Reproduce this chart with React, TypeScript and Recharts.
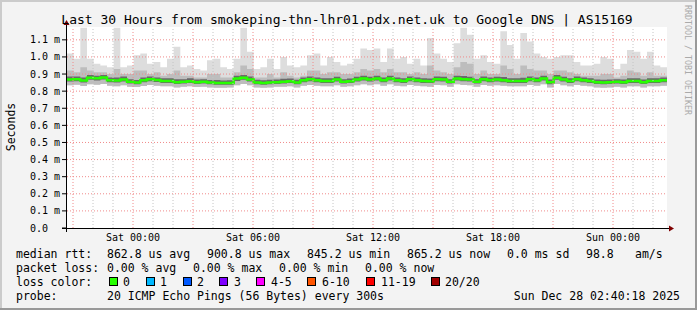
import React from 'react';
import { ComposedChart, Area, Line, XAxis, YAxis, ReferenceLine, CartesianGrid } from 'recharts';

// 20-minute steps starting Fri 20:42 (t in hours since start)
const medianMs = [
  0.868, 0.870, 0.862, 0.878, 0.875, 0.880, 0.864, 0.862, 0.868, 0.855, 0.850, 0.864, 0.870, 0.865, 0.860, 0.860, 0.852, 0.855, 0.858, 0.852, 0.855, 0.850, 0.848,
  0.847, 0.848, 0.874, 0.878, 0.868, 0.850, 0.848, 0.850, 0.852, 0.855, 0.858, 0.850, 0.864, 0.870, 0.864, 0.860, 0.860, 0.868, 0.855, 0.858, 0.868, 0.874,
  0.868, 0.874, 0.864, 0.874, 0.864, 0.860, 0.870, 0.864, 0.860, 0.858, 0.870, 0.868, 0.855, 0.874, 0.870, 0.868, 0.855, 0.870, 0.864, 0.868, 0.864, 0.860,
  0.860, 0.860, 0.870, 0.864, 0.874, 0.852, 0.878, 0.868, 0.860, 0.870, 0.864, 0.860, 0.852, 0.850, 0.852, 0.855, 0.852, 0.860, 0.860, 0.852, 0.860, 0.860, 0.864,
];
const maxMs = [
  1.02, 0.99, 1.17, 0.99, 0.96, 0.95, 0.94, 1.17, 0.94, 0.95, 1.01, 1.02, 0.96, 0.97, 0.94, 0.99, 1.06, 0.94, 0.95, 0.93, 0.92, 0.98, 0.99,
  0.94, 0.93, 0.99, 1.17, 1.03, 0.93, 0.94, 0.99, 0.93, 1.00, 0.95, 0.94, 0.95, 1.01, 1.02, 0.95, 1.00, 0.97, 0.95, 0.96, 0.99, 1.05,
  1.04, 1.05, 0.97, 1.05, 0.99, 1.00, 0.96, 0.99, 0.95, 1.11, 1.02, 0.99, 0.97, 1.08, 1.17, 1.13, 0.99, 1.01, 0.97, 0.96, 1.15, 1.07,
  0.99, 1.14, 1.09, 1.02, 1.00, 0.99, 1.00, 1.01, 1.01, 0.97, 0.95, 0.95, 0.96, 1.00, 0.99, 0.93, 0.96, 1.04, 1.03, 0.99, 1.03, 0.95, 0.94,
];
const p90Ms = [
  0.92, 0.91, 0.94, 0.92, 0.91, 0.91, 0.90, 0.93, 0.90, 0.90, 0.92, 0.92, 0.90, 0.91, 0.89, 0.90, 0.92, 0.89, 0.89, 0.88, 0.88, 0.90, 0.90,
  0.88, 0.88, 0.91, 0.95, 0.93, 0.88, 0.88, 0.90, 0.88, 0.91, 0.89, 0.88, 0.89, 0.92, 0.92, 0.90, 0.91, 0.91, 0.90, 0.90, 0.91, 0.93,
  0.92, 0.93, 0.91, 0.93, 0.91, 0.91, 0.90, 0.91, 0.90, 0.95, 0.92, 0.91, 0.90, 0.94, 0.97, 0.96, 0.90, 0.92, 0.90, 0.90, 0.95, 0.93,
  0.90, 0.95, 0.93, 0.92, 0.92, 0.90, 0.92, 0.92, 0.91, 0.90, 0.89, 0.89, 0.89, 0.90, 0.90, 0.88, 0.89, 0.92, 0.91, 0.89, 0.91, 0.89, 0.89,
];
const q3Ms = [
  0.885, 0.885, 0.880, 0.895, 0.890, 0.895, 0.880, 0.880, 0.885, 0.870, 0.865, 0.880, 0.885, 0.880, 0.875, 0.875, 0.870, 0.870, 0.875, 0.868, 0.870, 0.865, 0.865,
  0.862, 0.864, 0.890, 0.895, 0.885, 0.866, 0.864, 0.866, 0.868, 0.872, 0.874, 0.866, 0.880, 0.886, 0.880, 0.876, 0.876, 0.884, 0.870, 0.874, 0.884, 0.890,
  0.884, 0.890, 0.880, 0.890, 0.880, 0.876, 0.886, 0.880, 0.876, 0.874, 0.886, 0.884, 0.870, 0.890, 0.888, 0.884, 0.870, 0.886, 0.880, 0.884, 0.882, 0.876,
  0.876, 0.878, 0.886, 0.880, 0.890, 0.868, 0.894, 0.884, 0.876, 0.886, 0.880, 0.876, 0.868, 0.866, 0.868, 0.870, 0.868, 0.876, 0.876, 0.868, 0.876, 0.876, 0.880,
];
const q1Ms = [
  0.856, 0.858, 0.850, 0.866, 0.862, 0.868, 0.852, 0.850, 0.856, 0.844, 0.840, 0.852, 0.858, 0.854, 0.848, 0.848, 0.842, 0.844, 0.847, 0.842, 0.844, 0.840, 0.838,
  0.837, 0.838, 0.860, 0.866, 0.856, 0.840, 0.838, 0.840, 0.842, 0.844, 0.847, 0.840, 0.852, 0.858, 0.852, 0.848, 0.848, 0.856, 0.844, 0.847, 0.856, 0.862,
  0.856, 0.862, 0.852, 0.862, 0.852, 0.848, 0.858, 0.852, 0.848, 0.847, 0.858, 0.856, 0.844, 0.862, 0.858, 0.856, 0.844, 0.858, 0.852, 0.856, 0.852, 0.848,
  0.848, 0.848, 0.858, 0.852, 0.862, 0.840, 0.866, 0.856, 0.848, 0.858, 0.852, 0.848, 0.842, 0.840, 0.842, 0.844, 0.842, 0.848, 0.848, 0.842, 0.848, 0.848, 0.852,
];
const minMs = [
  0.835, 0.838, 0.830, 0.840, 0.838, 0.842, 0.832, 0.828, 0.835, 0.826, 0.824, 0.830, 0.836, 0.832, 0.828, 0.828, 0.822, 0.825, 0.828, 0.824, 0.826, 0.822, 0.820,
  0.820, 0.822, 0.835, 0.842, 0.835, 0.822, 0.820, 0.822, 0.825, 0.826, 0.828, 0.822, 0.832, 0.836, 0.832, 0.828, 0.828, 0.835, 0.826, 0.828, 0.835, 0.840,
  0.835, 0.840, 0.832, 0.840, 0.832, 0.828, 0.836, 0.832, 0.828, 0.826, 0.836, 0.835, 0.825, 0.840, 0.836, 0.835, 0.825, 0.836, 0.832, 0.835, 0.832, 0.828,
  0.828, 0.828, 0.836, 0.832, 0.840, 0.822, 0.842, 0.835, 0.828, 0.836, 0.832, 0.828, 0.822, 0.820, 0.822, 0.825, 0.822, 0.828, 0.828, 0.822, 0.828, 0.828, 0.832,
];

const STEP_H = 1 / 3;
const xLabelHours = [3.3, 9.3, 15.3, 21.3, 27.3];
const xLabels = ['Sat 00:00', 'Sat 06:00', 'Sat 12:00', 'Sat 18:00', 'Sun 00:00'];
const majorGridHours = [0.3, 3.3, 6.3, 9.3, 12.3, 15.3, 18.3, 21.3, 24.3, 27.3];
const minorGridHours = [1.3, 2.3, 4.3, 5.3, 7.3, 8.3, 10.3, 11.3, 13.3, 14.3, 16.3, 17.3, 19.3, 20.3, 22.3, 23.3, 25.3, 26.3, 28.3, 29.3];
const yTicks = [0, 0.1, 0.2, 0.3, 0.4, 0.5, 0.6, 0.7, 0.8, 0.9, 1.0, 1.1];

const lossColors = ['#26ff00', '#00b8ff', '#0059ff', '#7e00ff', '#ff00ff', '#ff5500', '#ff0000', '#a10000'];
const lossLabels = ['0', '1', '2', '3', '4-5', '6-10', '11-19', '20/20'];
const lossBoxX = [109, 146, 183, 219, 256, 307, 366, 431];
const lossLabelX = [123, 160, 197, 234, 271, 322, 381, 445];

const rttRow = [
  ['median rtt:', 16], ['862.8 us avg', 107], ['900.8 us max', 207], ['845.2 us min', 307],
  ['865.2 us now', 407], ['0.0 ms sd', 507], ['98.8', 586], ['am/s', 635],
] as const;
const lossRow = [
  ['packet loss:', 16], ['0.00 % avg', 107], ['0.00 % max', 193], ['0.00 % min', 279], ['0.00 % now', 365],
] as const;

const rows = medianMs.map((m, i) => ({
  t: i * STEP_H,
  med: m,
  all: [minMs[i], maxMs[i]],
  mid: [minMs[i], p90Ms[i]],
  core: [q1Ms[i], q3Ms[i]],
}));
const last = medianMs.length - 1;
rows.push({ ...rows[last], t: medianMs.length * STEP_H });

const MONO = '"DejaVu Sans Mono", monospace';

const YTick = (props: any) => {
  const v = props.payload.value;
  const label = v === 0 ? '0.0' : `${v.toFixed(1)} m`;
  return (
    <text x={props.x - 32} y={props.y + 3.5} fontFamily={MONO} fontSize={10} fill="#000" textAnchor="start">
      {label}
    </text>
  );
};

const XTick = (props: any) => {
  const idx = xLabelHours.indexOf(props.payload.value);
  return (
    <text x={props.x} y={241} fontFamily={MONO} fontSize={10} fill="#000" textAnchor="middle">
      {xLabels[idx] ?? ''}
    </text>
  );
};

export default function App() {
  return (
    <div style={{ position: 'absolute', left: 0, top: 0, width: 697, height: 310, background: '#f3f3f3' }}>
      <div style={{ position: 'absolute', left: 0, top: 0 }}>
        <ComposedChart width={697} height={310} data={rows} margin={{ top: 27, right: 30, bottom: 62, left: 7 }}>
          <CartesianGrid fill="#ffffff" horizontal={false} vertical={false} stroke="none" />
          <XAxis
            type="number"
            dataKey="t"
            domain={[0, 30]}
            ticks={xLabelHours}
            interval={0}
            tick={<XTick />}
            tickSize={0}
            tickMargin={0}
            axisLine={false}
            tickLine={false}
            height={20}
            allowDataOverflow
          />
          <YAxis
            type="number"
            domain={[0, 1.175]}
            ticks={yTicks}
            interval={0}
            tick={<YTick />}
            tickSize={5}
            tickMargin={0}
            tickLine={{ stroke: '#000' }}
            axisLine={false}
            width={60}
            allowDataOverflow
          />
          <Area dataKey="all" type="stepAfter" stroke="none" fill="#dddddd" fillOpacity={1} isAnimationActive={false} />
          <Area dataKey="mid" type="stepAfter" stroke="none" fill="#bdbdbd" fillOpacity={1} isAnimationActive={false} />
          <Area dataKey="core" type="stepAfter" stroke="none" fill="#6a6a6a" fillOpacity={1} isAnimationActive={false} />
          <Line dataKey="med" type="stepAfter" stroke="#26ff00" strokeWidth={2.5} dot={false} isAnimationActive={false} />
          {yTicks.slice(1).map((v) => (
            <ReferenceLine key={'h' + v} y={v} stroke="#f08a8a" strokeDasharray="1 2" strokeWidth={1} />
          ))}
          {minorGridHours.map((h) => (
            <ReferenceLine key={'m' + h} x={h} stroke="#c4c4c4" strokeDasharray="1 2" strokeWidth={1} />
          ))}
          {majorGridHours.map((h) => (
            <ReferenceLine key={'M' + h} x={h} stroke="#f08a8a" strokeDasharray="1 2" strokeWidth={1} />
          ))}
        </ComposedChart>
      </div>
      <svg width={697} height={310} style={{ position: 'absolute', left: 0, top: 0, pointerEvents: 'none' }}>
        <rect x={0} y={0} width={697} height={2} fill="#cbcbcb" />
        <rect x={0} y={0} width={2} height={310} fill="#cbcbcb" />
        <rect x={0} y={308} width={697} height={2} fill="#999999" />
        <rect x={695} y={0} width={2} height={310} fill="#999999" />
        <line x1={62} y1={228.5} x2={670} y2={228.5} stroke="#000" strokeWidth={1} />
        <line x1={66.5} y1={232} x2={66.5} y2={23} stroke="#000" strokeWidth={1} />
        <polygon points="669,225.5 674,228.5 669,231.5" fill="#7f0000" />
        <polygon points="63.5,25 66.5,20 69.5,25" fill="#7f0000" />
        <text x={347} y={23.5} fontFamily={MONO} fontSize={13} textAnchor="middle" fill="#000">
          Last 30 Hours from smokeping-thn-lhr01.pdx.net.uk to Google DNS | AS15169
        </text>
        <text x={15} y={127} fontFamily={MONO} fontSize={11.5} textAnchor="middle" fill="#000" transform="rotate(-90 15 127)">
          Seconds
        </text>
        <text x={685} y={5} fontFamily={MONO} fontSize={8.3} textAnchor="start" fill="#aaaaaa" transform="rotate(90 685 5)">
          RRDTOOL / TOBI OETIKER
        </text>
        {rttRow.map(([s, x]) => (
          <text key={s} x={x} y={258} fontFamily={MONO} fontSize={11.5} fill="#000">{s}</text>
        ))}
        {lossRow.map(([s, x]) => (
          <text key={s} x={x} y={272} fontFamily={MONO} fontSize={11.5} fill="#000">{s}</text>
        ))}
        <text x={16} y={286} fontFamily={MONO} fontSize={11.5} fill="#000">loss color:</text>
        {lossColors.map((c, i) => (
          <g key={c}>
            <rect x={lossBoxX[i] + 0.5} y={277.5} width={8} height={8} fill={c} stroke="#000" strokeWidth={1} />
            <text x={lossLabelX[i]} y={286} fontFamily={MONO} fontSize={11.5} fill="#000">{lossLabels[i]}</text>
          </g>
        ))}
        <text x={16} y={300} fontFamily={MONO} fontSize={11.5} fill="#000">probe:</text>
        <text x={107} y={300} fontFamily={MONO} fontSize={11.5} fill="#000">20 ICMP Echo Pings (56 Bytes) every 300s</text>
        <text x={680} y={300} fontFamily={MONO} fontSize={11.5} fill="#000" textAnchor="end">Sun Dec 28 02:40:18 2025</text>
      </svg>
    </div>
  );
}
